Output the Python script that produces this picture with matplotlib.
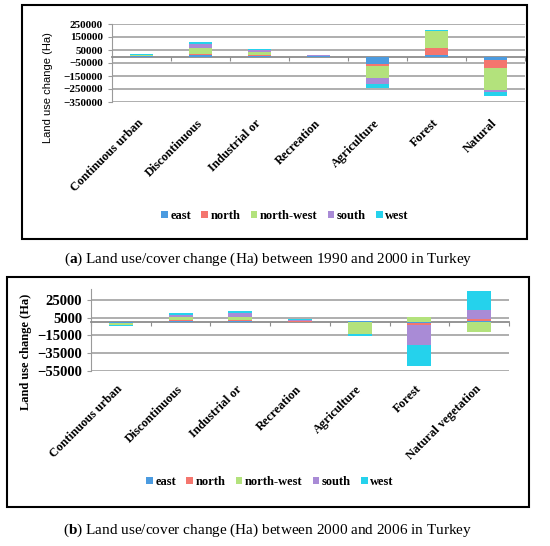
import numpy as np
import matplotlib.pyplot as plt
from matplotlib.patches import Rectangle

plt.rcParams['font.family'] = 'Liberation Serif'
plt.rcParams['mathtext.fontset'] = 'custom'
plt.rcParams['mathtext.rm'] = 'Liberation Serif'
plt.rcParams['mathtext.bf'] = 'Liberation Serif:bold'

W, H = 550, 546

regions = ['east', 'north', 'north-west', 'south', 'west']
colors = ['#4b9be0', '#f4766e', '#b3e27c', '#a98bd6', '#25d2ec']

# (a) 1990-2000
cats_a = ['Continuous urban', 'Discontinuous', 'Industrial or', 'Recreation',
          'Agriculture', 'Forest', 'Natural']
east_a = [3000, 12000, 5000, 2000, -54000, 13000, -26000]
north_a = [2000, 10000, 5000, 1000, -18000, 52000, -60000]
nw_a = [5000, 42000, 26000, 4000, -90000, 129000, -168000]
south_a = [3000, 31000, 15000, 2000, -52000, 3000, -18000]
west_a = [5000, 18000, 8000, 3000, -31000, 10000, -28000]
yticks_a = [-350000, -250000, -150000, -50000, 50000, 150000, 250000]

# (b) 2000-2006
cats_b = ['Continuous urban', 'Discontinuous', 'Industrial or', 'Recreation',
          'Agriculture', 'Forest', 'Natural vegetation']
east_b = [-800, 1000, 800, 500, 1500, -700, 1500]
north_b = [-500, 1500, 2000, 300, 0, -3000, 2000]
nw_b = [-1500, 3000, 3500, 700, -13000, 5500, -11000]
south_b = [-500, 2600, 3500, 500, -1000, -22000, 10500]
west_b = [-700, 1900, 2500, 1000, -1500, -24000, 21500]
yticks_b = [-55000, -35000, -15000, 5000, 25000]

caption_a = r'($\mathbf{a}$) Land use/cover change (Ha) between 1990 and 2000 in Turkey'
caption_b = r'($\mathbf{b}$) Land use/cover change (Ha) between 2000 and 2006 in Turkey'


def px_axes(fig, left, right, top, bottom):
    return fig.add_axes([left / W, 1 - bottom / H, (right - left) / W, (bottom - top) / H])


def stacked(ax, series):
    x = np.arange(len(series[0]))
    pos = np.zeros(len(x))
    neg = np.zeros(len(x))
    for vals, c, lab in zip(series, colors, regions):
        v = np.array(vals, dtype=float)
        bottom = np.where(v >= 0, pos, neg)
        ax.bar(x, v, 0.4, bottom=bottom, color=c, label=lab, zorder=3)
        pos += np.clip(v, 0, None)
        neg += np.clip(v, None, 0)


def style(ax, cats, ylim, yticks, tick_fs, cat_fs, pad):
    ax.set_xlim(-0.5, len(cats) - 0.5)
    ax.set_ylim(*ylim)
    ax.set_yticks(yticks)
    ax.yaxis.grid(True, color='#a8a8a8', lw=1.3)
    ax.set_axisbelow(True)
    for s in ['top', 'right']:
        ax.spines[s].set_visible(False)
    ax.spines['left'].set_color('#9a9a9a')
    ax.spines['bottom'].set_position(('data', 0))
    ax.spines['bottom'].set_color('#8c8c8c')
    ax.spines['bottom'].set_linewidth(1.3)
    ax.set_xticks(np.arange(-0.5, len(cats), 1))
    ax.tick_params(axis='x', length=3, color='#8c8c8c', labelbottom=False)
    ax.tick_params(axis='y', length=3, color='#9a9a9a', labelsize=tick_fs)
    for t in ax.get_yticklabels():
        t.set_fontweight('bold')
    sec = ax.secondary_xaxis('bottom')
    sec.set_xticks(np.arange(len(cats)), labels=cats, rotation=45, ha='right',
                   va='center', rotation_mode='anchor', fontweight='bold', fontsize=cat_fs)
    sec.spines['bottom'].set_visible(False)
    sec.tick_params(length=0, pad=pad)


def add_legend(ax, cx, cy):
    ax.legend(loc='center', bbox_to_anchor=(cx / W, 1 - cy / H), bbox_transform=fig.transFigure,
              ncol=5, frameon=False, handlelength=0.55, handleheight=0.55, handletextpad=0.2,
              columnspacing=0.8, prop={'weight': 'bold', 'size': 9})


fig = plt.figure(figsize=(W / 100, H / 100), dpi=100)

# panel a
ax1 = px_axes(fig, 112, 525, 24, 102)
stacked(ax1, [east_a, north_a, nw_a, south_a, west_a])
style(ax1, cats_a, (-350000, 250000), yticks_a, 8, 9, 14)
ax1.set_ylabel('Land use change (Ha)', fontfamily='Liberation Sans', fontsize=8)
ax1.yaxis.set_label_coords(-0.143, 0.19)
add_legend(ax1, 285, 216)

# panel b
ax2 = px_axes(fig, 91, 509, 289.4, 370.7)
stacked(ax2, [east_b, north_b, nw_b, south_b, west_b])
style(ax2, cats_b, (-55000, 37000), yticks_b, 10.5, 9, 12)
ax2.set_ylabel('Land use change (Ha)', fontweight='bold', fontsize=9)
ax2.yaxis.set_label_coords(-0.14, 0.23)
add_legend(ax2, 270, 482)

# frames and captions
fig.add_artist(Rectangle((22 / W, 1 - 239 / H), 505 / W, 234 / H, transform=fig.transFigure,
                         fill=False, ec='black', lw=1.5))
fig.add_artist(Rectangle((7 / W, 1 - 507 / H), 522 / W, 230 / H, transform=fig.transFigure,
                         fill=False, ec='black', lw=1.5))
fig.text(268 / W, 1 - 259 / H, caption_a, ha='center', va='center', fontsize=11)
fig.text(268 / W, 1 - 530 / H, caption_b, ha='center', va='center', fontsize=11)

fig.savefig('out.png', dpi=100)
